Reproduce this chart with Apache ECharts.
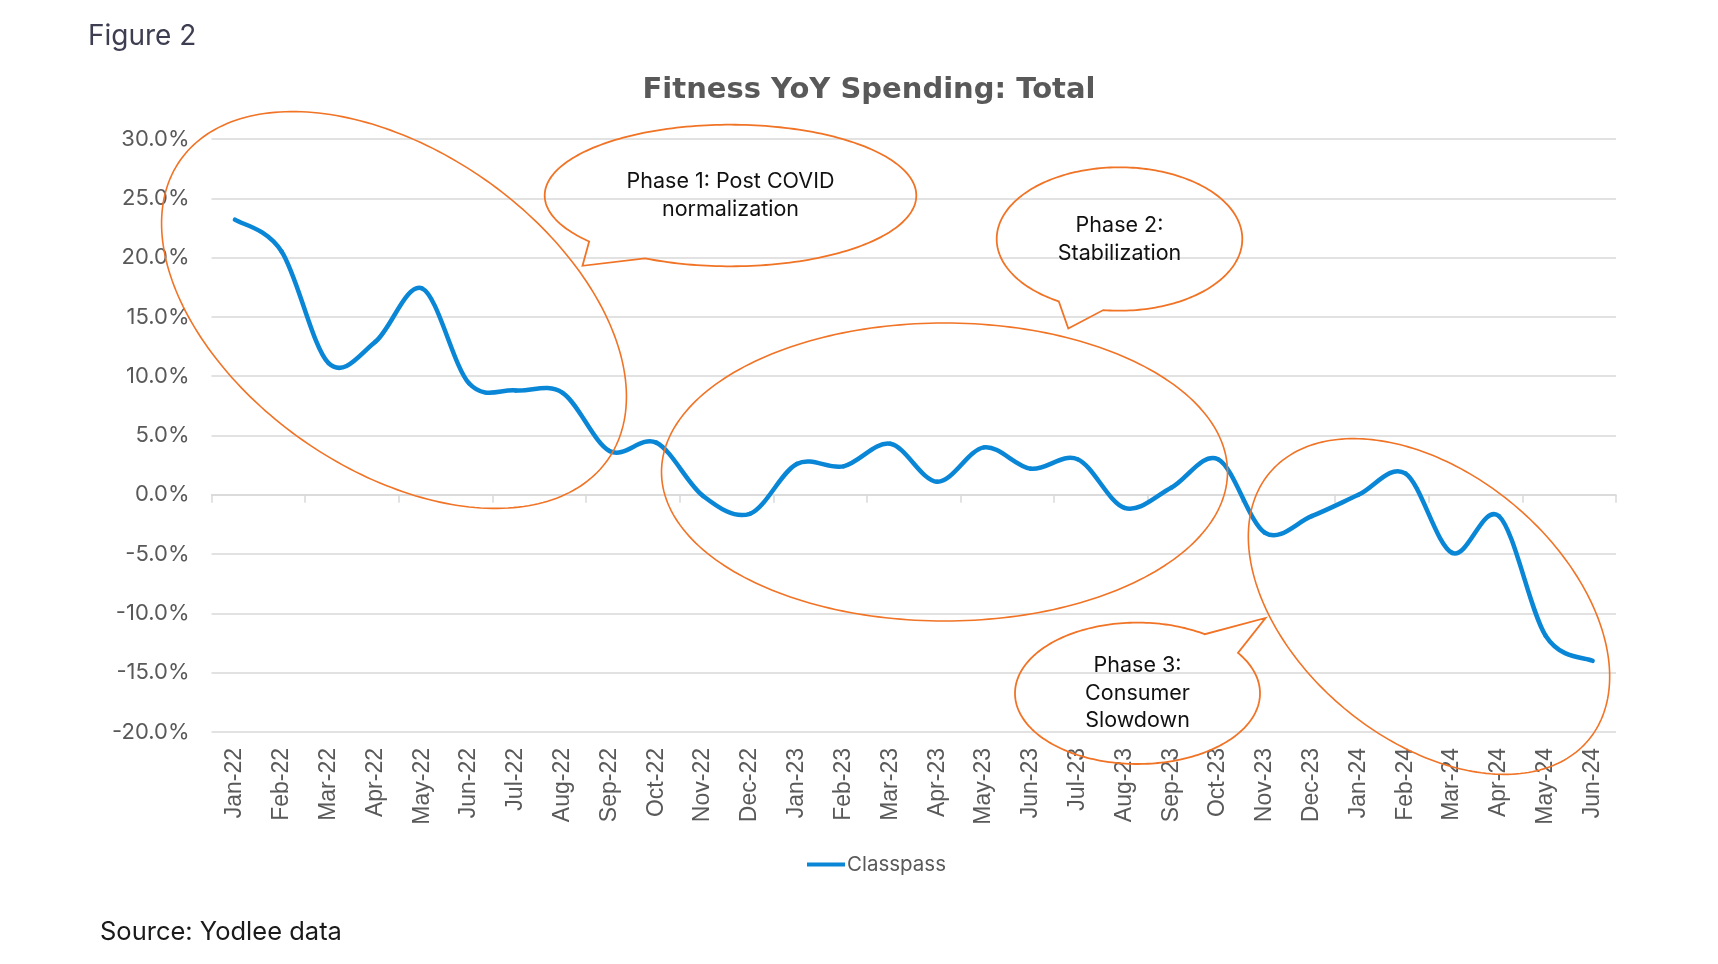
<!DOCTYPE html>
<html>
<head>
<meta charset="utf-8">
<script src="https://cdn.jsdelivr.net/npm/echarts@6/dist/echarts.min.js"></script>
<style>
  html, body { margin: 0; padding: 0; background: #ffffff; }
  #chart { width: 1718px; height: 964px; }
</style>
</head>
<body>
<div id="chart"></div>
<script>
const categories = ['Jan-22','Feb-22','Mar-22','Apr-22','May-22','Jun-22','Jul-22','Aug-22','Sep-22','Oct-22','Nov-22','Dec-22',
  'Jan-23','Feb-23','Mar-23','Apr-23','May-23','Jun-23','Jul-23','Aug-23','Sep-23','Oct-23','Nov-23','Dec-23',
  'Jan-24','Feb-24','Mar-24','Apr-24','May-24','Jun-24'];
const classpass = [23.2, 20.5, 11.1, 12.9, 17.4, 9.4, 8.8, 8.6, 3.7, 4.4, -0.1, -1.6,
  2.6, 2.4, 4.3, 1.1, 4.0, 2.2, 3.0, -1.1, 0.6, 3.0, -3.2, -1.8,
  0.0, 1.8, -4.9, -1.8, -11.9, -14.0];
const yTicks = { min: -20, max: 30, interval: 5 };
const seriesName = 'Classpass';
const titleText = 'Fitness YoY Spending: Total';
const figureLabel = 'Figure 2';
const sourceText = 'Source: Yodlee data';
const phaseLabels = ['Phase 1: Post COVID\nnormalization', 'Phase 2:\nStabilization', 'Phase 3:\nConsumer\nSlowdown'];

const ORANGE = '#F07326';
const BLUE = '#0A86D6';
const TXT = '#595959';
const FONT = 'Inter, "Noto Sans", sans-serif';

function ellipsePts(cx, cy, a, b, deg, t0, t1, n) {
  const th = deg * Math.PI / 180, c = Math.cos(th), s = Math.sin(th);
  const pts = [];
  for (let i = 0; i <= n; i++) {
    const t = t0 + (t1 - t0) * i / n;
    const x = a * Math.cos(t), y = b * Math.sin(t);
    pts.push([cx + x * c - y * s, cy + x * s + y * c]);
  }
  return pts;
}
function ringShape(cx, cy, a, b, deg) {
  return { type: 'polygon', z: 100, shape: { points: ellipsePts(cx, cy, a, b, deg, 0, Math.PI * 2, 240) },
    style: { fill: 'none', stroke: ORANGE, lineWidth: 1.6 } };
}
function angleAt(cx, cy, rx, ry, px, py) {
  return Math.atan2((py - cy) / ry, (px - cx) / rx);
}
function bubbleShape(cx, cy, rx, ry, p1, tip, p2) {
  let tA = angleAt(cx, cy, rx, ry, p1[0], p1[1]);
  let tB = angleAt(cx, cy, rx, ry, p2[0], p2[1]);
  if (tA > tB) { const tmp = tA; tA = tB; tB = tmp; }
  const pts = ellipsePts(cx, cy, rx, ry, 0, tB, tA + Math.PI * 2, 220);
  pts.push(tip);
  return { type: 'polygon', z: 100, shape: { points: pts },
    style: { fill: 'none', stroke: ORANGE, lineWidth: 1.8, lineJoin: 'miter' } };
}
function label(x, y, text) {
  return { type: 'text', z: 101, x: x, y: y,
    style: { text: text, fill: '#111111', font: '21.5px ' + FONT, align: 'center', verticalAlign: 'middle', lineHeight: 27.5 } };
}

// Smooth (Excel-like cardinal) curve segments, positioned through the axes via api.coord
function renderSegment(params, api) {
  const n = classpass.length;
  const i = params.dataIndex;
  if (i >= n - 1) return null;
  const P = function (k) { const kk = Math.max(0, Math.min(n - 1, k)); return api.coord([kk, classpass[kk]]); };
  const p0 = P(i - 1), p1 = P(i), p2 = P(i + 1), p3 = P(i + 2);
  const t = 1 / 6;
  return {
    type: 'bezierCurve',
    shape: {
      x1: p1[0], y1: p1[1], x2: p2[0], y2: p2[1],
      cpx1: p1[0] + (p2[0] - p0[0]) * t, cpy1: p1[1] + (p2[1] - p0[1]) * t,
      cpx2: p2[0] - (p3[0] - p1[0]) * t, cpy2: p2[1] - (p3[1] - p1[1]) * t
    },
    style: { stroke: BLUE, lineWidth: 4.5, fill: null, lineCap: 'round' }
  };
}

const chart = echarts.init(document.getElementById('chart'), null, { renderer: 'canvas' });
chart.setOption({
  backgroundColor: '#ffffff',
  animation: false,
  legend: {
    data: [seriesName], left: 802, top: 849,
    icon: 'rect', itemWidth: 38, itemHeight: 4, itemGap: 6,
    itemStyle: { color: BLUE },
    textStyle: { fontFamily: FONT, fontSize: 20.5, color: TXT, padding: [0, 0, 0, -3] }
  },
  grid: { left: 211.5, right: 102, top: 139, bottom: 232, containLabel: false },
  xAxis: [
    {
      type: 'category', data: categories, boundaryGap: true, position: 'bottom',
      axisLine: { onZero: true, lineStyle: { color: '#D9D9D9', width: 1.5 } },
      axisTick: { show: true, length: 8, lineStyle: { color: '#D9D9D9', width: 1.5 } },
      axisLabel: { show: false }, splitLine: { show: false }
    },
    {
      type: 'category', data: categories, boundaryGap: true, position: 'bottom',
      axisLine: { show: false, onZero: false }, axisTick: { show: false },
      axisLabel: { show: true, rotate: 90, margin: 16, fontFamily: '"Liberation Sans", Arial, sans-serif', fontSize: 23, color: TXT },
      splitLine: { show: false }
    }
  ],
  yAxis: {
    type: 'value', min: yTicks.min, max: yTicks.max, interval: yTicks.interval,
    axisLine: { show: false }, axisTick: { show: false },
    axisLabel: { margin: 22, fontFamily: FONT, fontSize: 22, color: TXT,
      formatter: function (v) { return v.toFixed(1) + '%'; } },
    splitLine: { lineStyle: { color: '#D9D9D9', width: 1.5 } }
  },
  series: [{
    name: seriesName, type: 'custom', xAxisIndex: 0, yAxisIndex: 0,
    data: classpass.map(function (v, i) { return [i, v]; }),
    encode: { x: 0, y: 1 },
    itemStyle: { color: BLUE },
    renderItem: renderSegment, z: 5
  }],
  graphic: [
    { type: 'text', x: 88, y: 37, z: 101, style: { text: figureLabel, fill: '#3E3E52', font: '28px ' + FONT, verticalAlign: 'middle' } },
    { type: 'text', x: 869, y: 90, z: 101, style: { text: titleText, fill: TXT, font: 'bold 29px "DejaVu Sans", sans-serif', align: 'center', verticalAlign: 'middle' } },
    { type: 'text', x: 100, y: 932, z: 101, style: { text: sourceText, fill: '#1A1A1A', font: '25.5px ' + FONT, verticalAlign: 'middle' } },
    ringShape(394, 310, 261, 159, 35),
    ringShape(944.5, 472, 283, 149, 0),
    ringShape(1429, 606.5, 208, 132.5, 40),
    bubbleShape(730.5, 195.5, 185.8, 70.8, [589, 241.5], [582.5, 265.8], [645, 258.3]),
    bubbleShape(1119.5, 239, 122.8, 71.7, [1059.3, 300.7], [1068.3, 328.5], [1103.3, 310]),
    bubbleShape(1137.5, 693.3, 122.5, 70.7, [1205, 634], [1265.5, 618], [1238.3, 652.7]),
    label(730.5, 195.5, phaseLabels[0]),
    label(1119.5, 239.5, phaseLabels[1]),
    label(1137.5, 693.5, phaseLabels[2])
  ]
});
</script>
</body>
</html>
